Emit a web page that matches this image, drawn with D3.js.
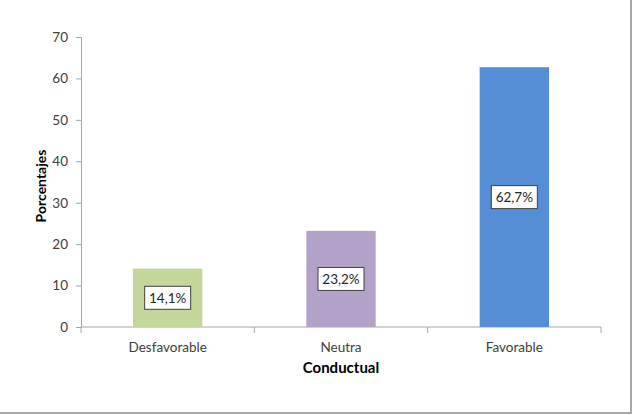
<!DOCTYPE html>
<html>
<head>
<meta charset="utf-8">
<script src="https://cdn.jsdelivr.net/npm/d3@7"></script>
<style>
  body { margin: 0; background: #fff; }
  svg text { font-family: Lato, "Open Sans", sans-serif; }
</style>
</head>
<body>
<div class="chart"></div>
<script>
// DATA
const CATEGORIES = ["Desfavorable", "Neutra", "Favorable"];
const VALUES = [14.1, 23.2, 62.7];
const LABELS = ["14,1%", "23,2%", "62,7%"];
const COLORS = ["#c3d69b", "#b3a2c7", "#558ed5"];
const Y_TICKS = [0, 10, 20, 30, 40, 50, 60, 70];

// FRAME
const FRAME_WIDTH = 633;
const FRAME_HEIGHT = 415;
const MARGINS = {left: 81, right: 32, top: 37, bottom: 88};
const GRAPH_WIDTH = FRAME_WIDTH - MARGINS.left - MARGINS.right;
const GRAPH_HEIGHT = FRAME_HEIGHT - MARGINS.top - MARGINS.bottom;

const FRAME = d3.select(".chart")
  .append("svg")
    .attr("width", FRAME_WIDTH)
    .attr("height", FRAME_HEIGHT);

// outer border (only right/bottom edges show in the picture)
FRAME.append("rect")
  .attr("x", -2).attr("y", -2)
  .attr("width", 633).attr("height", 415)
  .attr("fill", "none")
  .attr("stroke", "#8c8c8c")
  .attr("stroke-width", 1.5);

const X_SCALE = d3.scaleBand()
  .domain(CATEGORIES)
  .range([0, GRAPH_WIDTH])
  .paddingInner(0.6)
  .paddingOuter(0.3);

const X_EDGES = d3.scaleBand()
  .domain(CATEGORIES)
  .range([0, GRAPH_WIDTH]);

const Y_SCALE = d3.scaleLinear()
  .domain([0, 70])
  .range([GRAPH_HEIGHT, 0]);

const G = FRAME.append("g")
  .attr("transform", "translate(" + MARGINS.left + "," + MARGINS.top + ")");

// Y AXIS
const yAxis = G.append("g")
  .call(d3.axisLeft(Y_SCALE).tickValues(Y_TICKS).tickSize(5).tickPadding(8));
yAxis.selectAll("line, path").attr("stroke", "#a6a6a6");
yAxis.selectAll("text").attr("font-size", "13.5px").attr("fill", "#404040")
  .style("font-family", "Lato, 'Open Sans', sans-serif");

// X AXIS with ticks at band boundaries
const xg = G.append("g")
  .attr("transform", "translate(0," + GRAPH_HEIGHT + ")");
xg.append("line")
  .attr("x1", 0).attr("x2", GRAPH_WIDTH)
  .attr("stroke", "#a6a6a6");
xg.selectAll(".edge")
  .data(CATEGORIES.concat(["end"]))
  .enter()
  .append("line")
    .attr("x1", (d, i) => i < CATEGORIES.length ? X_EDGES(d) : GRAPH_WIDTH)
    .attr("x2", (d, i) => i < CATEGORIES.length ? X_EDGES(d) : GRAPH_WIDTH)
    .attr("y1", 0).attr("y2", 6)
    .attr("stroke", "#a6a6a6");
xg.selectAll(".cat")
  .data(CATEGORIES)
  .enter()
  .append("text")
    .attr("x", (d) => X_EDGES(d) + X_EDGES.bandwidth() / 2)
    .attr("y", 25)
    .attr("text-anchor", "middle")
    .attr("font-size", "13.5px")
    .attr("fill", "#404040")
    .text((d) => d);

// BARS
G.selectAll(".bar")
  .data(VALUES)
  .enter()
  .append("rect")
    .attr("x", (d, i) => X_SCALE(CATEGORIES[i]))
    .attr("y", (d) => Y_SCALE(d))
    .attr("width", X_SCALE.bandwidth())
    .attr("height", (d) => GRAPH_HEIGHT - Y_SCALE(d))
    .attr("fill", (d, i) => COLORS[i]);

// DATA LABELS (boxed, centered in bar)
const LBL = G.selectAll(".lbl")
  .data(VALUES)
  .enter()
  .append("g")
    .attr("transform", (d, i) => "translate(" +
      (X_SCALE(CATEGORIES[i]) + X_SCALE.bandwidth() / 2) + "," + Y_SCALE(d / 2) + ")");
LBL.append("rect")
  .attr("x", -23).attr("y", -11.5)
  .attr("width", 46).attr("height", 23)
  .attr("fill", "#fff")
  .attr("stroke", "#404040")
  .attr("stroke-width", 1);
LBL.append("text")
  .attr("text-anchor", "middle")
  .attr("dy", "0.35em")
  .attr("font-size", "13.5px")
  .attr("fill", "#262626")
  .text((d, i) => LABELS[i]);

// AXIS TITLES
FRAME.append("text")
  .attr("transform", "translate(46,186) rotate(-90)")
  .attr("text-anchor", "middle")
  .attr("font-size", "14px")
  .attr("font-weight", "bold")
  .attr("fill", "#000")
  .text("Porcentajes");

FRAME.append("text")
  .attr("x", MARGINS.left + GRAPH_WIDTH / 2)
  .attr("y", 373)
  .attr("text-anchor", "middle")
  .attr("font-size", "15px")
  .attr("font-weight", "bold")
  .attr("fill", "#000")
  .text("Conductual");
</script>
</body>
</html>
